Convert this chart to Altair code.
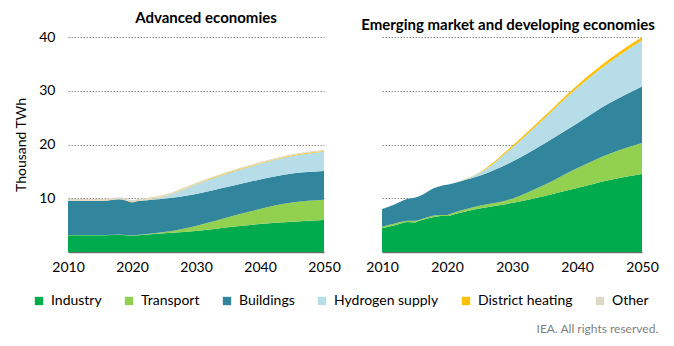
import altair as alt
import pandas as pd

sectors = ["Industry", "Transport", "Buildings", "Hydrogen supply", "District heating", "Other"]
colors = ["#00ab4e", "#92d050", "#31859c", "#b7dde8", "#ffc000", "#ddd9c4"]

# Advanced economies (thousand TWh)
adv_years = [2010, 2012, 2014, 2016, 2018, 2019, 2020, 2021, 2022, 2025, 2030, 2035, 2040, 2045, 2050]
adv_industry = [3.1, 3.1, 3.1, 3.1, 3.2, 3.1, 3.0, 3.1, 3.2, 3.5, 3.9, 4.6, 5.2, 5.65, 5.95]
adv_transport = [0.05, 0.05, 0.05, 0.05, 0.05, 0.05, 0.05, 0.1, 0.1, 0.2, 0.95, 1.85, 2.8, 3.55, 3.75]
adv_buildings = [6.35, 6.35, 6.35, 6.4, 6.55, 6.45, 6.2, 6.3, 6.3, 6.2, 5.95, 5.7, 5.5, 5.4, 5.35]
adv_hydrogen = [0, 0, 0, 0, 0, 0, 0, 0, 0.05, 0.4, 1.75, 2.5, 2.9, 3.25, 3.6]
adv_district = [0.03, 0.03, 0.03, 0.03, 0.03, 0.03, 0.03, 0.03, 0.04, 0.06, 0.1, 0.12, 0.13, 0.15, 0.15]
adv_other = [0.35, 0.35, 0.35, 0.35, 0.35, 0.35, 0.35, 0.33, 0.3, 0.28, 0.25, 0.22, 0.2, 0.2, 0.2]

# Emerging market and developing economies (thousand TWh)
emd_years = [2010, 2012, 2014, 2015, 2016, 2018, 2019, 2020, 2021, 2023, 2025, 2030, 2035, 2040, 2045, 2050]
emd_industry = [4.4, 5.0, 5.6, 5.5, 5.9, 6.5, 6.7, 6.7, 7.0, 7.6, 8.1, 9.1, 10.4, 11.9, 13.4, 14.5]
emd_transport = [0.3, 0.3, 0.2, 0.3, 0.2, 0.3, 0.2, 0.2, 0.3, 0.4, 0.5, 0.8, 2.1, 3.7, 4.9, 5.8]
emd_buildings = [3.3, 3.6, 4.1, 4.3, 4.4, 5.1, 5.4, 5.6, 5.5, 5.5, 5.6, 6.9, 7.7, 8.3, 9.4, 10.5]
emd_hydrogen = [0, 0, 0, 0, 0, 0, 0, 0, 0, 0.1, 0.5, 2.6, 4.7, 6.6, 7.6, 8.6]
emd_district = [0, 0, 0, 0, 0, 0, 0, 0, 0, 0.03, 0.1, 0.3, 0.4, 0.5, 0.6, 0.6]
emd_other = [0.03] * 16

x_ticks = [2010, 2020, 2030, 2040, 2050]
y_ticks = [10, 20, 30, 40]

FONT = "Lato"


def build(years, series):
    rows = []
    for order, (name, vals) in enumerate(zip(sectors, series)):
        for y, v in zip(years, vals):
            rows.append({"year": y, "sector": name, "value": v, "ord": order})
    return pd.DataFrame(rows)


adv_df = build(adv_years, [adv_industry, adv_transport, adv_buildings, adv_hydrogen, adv_district, adv_other])
emd_df = build(emd_years, [emd_industry, emd_transport, emd_buildings, emd_hydrogen, emd_district, emd_other])


def panel(df, title, width, show_y, dx):
    y_axis = alt.Axis(
        values=y_ticks,
        title="Thousand TWh" if show_y else None,
        labels=show_y,
        ticks=False,
        domain=False,
        grid=True,
        gridColor="#8c8c8c",
        gridDash=[1.5, 1.5],
        gridWidth=1,
        labelFontSize=14,
        labelPadding=13 if show_y else 0,
        labelColor="#000000",
        labelFont=FONT,
        titleFont=FONT,
        titleFontSize=14,
        titleFontWeight="normal",
        titleColor="#000000",
        titlePadding=10,
    )
    return (
        alt.Chart(df)
        .mark_area(interpolate="monotone")
        .encode(
            x=alt.X(
                "year:Q",
                scale=alt.Scale(domain=[2010, 2050], nice=False, zero=False),
                axis=alt.Axis(
                    values=x_ticks,
                    format="d",
                    title=None,
                    ticks=False,
                    grid=False,
                    domain=True,
                    domainColor="#6e6e6e",
                    domainWidth=1.5,
                    labelFontSize=14,
                    labelPadding=8,
                    labelColor="#000000",
                    labelFont=FONT,
                    labelFlush=False,
                ),
            ),
            y=alt.Y(
                "value:Q",
                stack="zero",
                scale=alt.Scale(domain=[0, 40], nice=False),
                axis=y_axis,
            ),
            color=alt.Color(
                "sector:N",
                scale=alt.Scale(domain=sectors, range=colors),
                sort=sectors,
                legend=alt.Legend(title=None),
            ),
            order=alt.Order("ord:Q", sort="ascending"),
        )
        .properties(
            width=width,
            height=215,
            title=alt.TitleParams(
                title, fontSize=15, fontWeight="bold", font=FONT, color="#000000",
                anchor="middle", dx=dx, offset=4,
            ),
        )
    )


left = panel(adv_df, "Advanced economies", 256, True, 10)
right = panel(emd_df, "Emerging market and developing economies", 260, False, -4)

chart = (
    alt.hconcat(left, right, spacing=58, bounds="flush")
    .properties(
        padding={"left": 14, "top": 11, "right": 4, "bottom": 4},
        title=alt.TitleParams(
            "IEA. All rights reserved.", orient="bottom", anchor="end",
            fontSize=12, fontWeight="normal", color="#7f7f7f", font=FONT, offset=16,
        ),
    )
    .configure_view(stroke=None)
    .configure_legend(
        orient="none",
        direction="horizontal",
        legendX=-36,
        legendY=257,
        symbolType="square",
        symbolSize=70,
        symbolStrokeWidth=0,
        labelFontSize=14,
        labelFont=FONT,
        labelColor="#000000",
        labelOffset=5,
        columnPadding=20,
    )
)

chart.save("out.html", embed_options={"renderer": "svg", "actions": False})
